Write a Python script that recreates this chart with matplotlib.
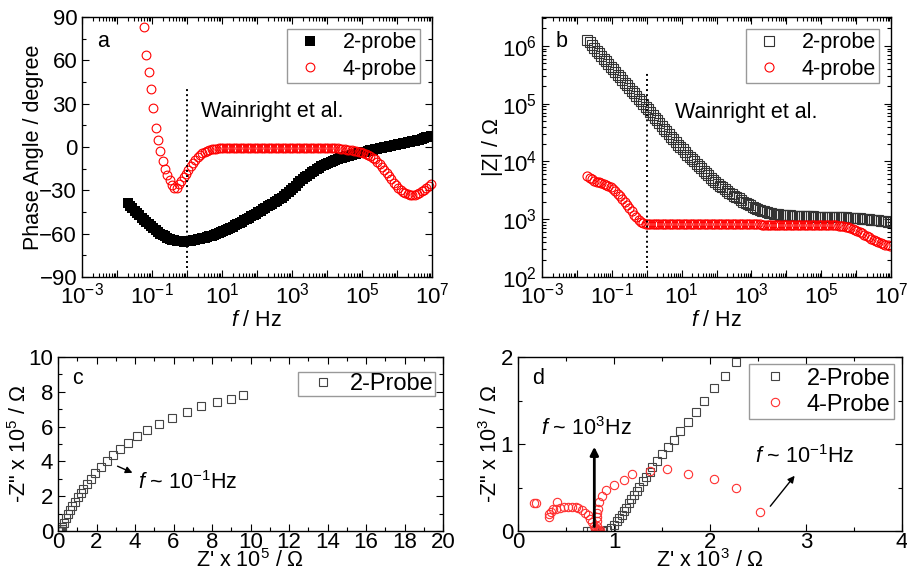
import numpy as np
import matplotlib
matplotlib.use("Agg")
import matplotlib.pyplot as plt
from matplotlib.ticker import LogLocator, MultipleLocator, NullFormatter

plt.rcParams['font.family'] = ['Liberation Sans', 'DejaVu Sans']
plt.rcParams['mathtext.fontset'] = 'custom'
plt.rcParams['mathtext.rm'] = 'Liberation Sans'
plt.rcParams['mathtext.it'] = 'Liberation Sans:italic'
plt.rcParams['mathtext.default'] = 'regular'

# frequency sweep, 15 points per decade from 0.02 Hz to 10 MHz
freq = 10 ** (np.arange(131) / 15.0 - 1.7)

# phase angle (degree), 2-probe
phase_2p = [-39, -40.7, -42.3, -44, -45.7, -47.3, -49, -50.5, -52.0, -53.5, -54.9, -56.3,
            -57.6, -58.8, -59.9, -61, -61.9, -62.8, -63.5, -64.1, -64.6, -65, -65.3, -65.4,
            -65.5, -65.4, -65.3, -65, -64.7, -64.3, -63.9, -63.5, -63.1, -62.7, -62.3, -61.9,
            -61.4, -60.9, -60.3, -59.7, -59.0, -58.3, -57.6, -56.8, -56.0, -55.1, -54.2, -53.4,
            -52.5, -51.6, -50.8, -49.9, -49.0, -48.0, -47.1, -46.1, -45.1, -44.1, -43.1, -42.1,
            -41.1, -40.2, -39.2, -38.3, -37.3, -36.3, -35.2, -33.9, -32.6, -31.1, -29.6, -28.2,
            -26.7, -25.2, -23.8, -22.4, -21.1, -19.9, -18.5, -17.4, -16.3, -15.2, -14.3, -13.4,
            -12.5, -11.7, -10.9, -10.2, -9.5, -8.9, -8.3, -7.8, -7.3, -6.8, -6.3, -5.9,
            -5.5, -5.1, -4.7, -4.3, -4.0, -3.6, -3.2, -2.8, -2.4, -2.0, -1.6, -1.2,
            -0.8, -0.4, 0.0, 0.3, 0.6, 1.0, 1.3, 1.6, 2.0, 2.3, 2.6, 2.9,
            3.2, 3.5, 3.9, 4.2, 4.6, 5.0, 5.5, 6.0, 6.6, 7.2, 7.7]

# phase angle (degree), 4-probe; the lowest frequencies lie above 90 and are left out
phase_4p = [83, 64, 52, 40, 27, 13, 5, -3, -10, -15, -19.5, -23,
            -26.3, -28.6, -28.5, -25.8, -23.5, -21, -18.5, -16, -13.5, -11, -9, -7,
            -5.2, -4.0, -3.2, -2.6, -2.1, -1.7, -1.4, -1.2, -1.0, -0.9, -0.8, -0.7,
            -0.65, -0.6, -0.5, -0.5, -0.5, -0.5, -0.5, -0.5, -0.5, -0.5, -0.5, -0.5,
            -0.5, -0.5, -0.5, -0.5, -0.5, -0.5, -0.5, -0.5, -0.5, -0.5, -0.5, -0.5,
            -0.5, -0.5, -0.5, -0.5, -0.5, -0.5, -0.5, -0.5, -0.5, -0.5, -0.5, -0.5,
            -0.5, -0.5, -0.5, -0.5, -0.5, -0.55, -0.6, -0.65, -0.7, -0.75, -0.85, -1.0,
            -1.15, -1.3, -1.5, -1.75, -2.0, -2.3, -2.6, -3.0, -3.4, -3.8, -4.25, -4.8,
            -5.45, -6.3, -7.3, -8.6, -10.1, -11.8, -13.7, -15.7, -17.8, -20.1, -22.3, -24.6,
            -26.6, -28.4, -30.0, -31.2, -32.1, -32.7, -33.0, -33.1, -33.0, -32.6, -31.9, -30.8,
            -29.5, -28.1, -26.8, -25.6]

# log10 of |Z| / Ohm
logZ_2p = [6.10, 6.06, 6.02, 5.97, 5.92, 5.88, 5.83, 5.78, 5.74, 5.69, 5.64, 5.60,
           5.55, 5.50, 5.46, 5.41, 5.36, 5.32, 5.27, 5.22, 5.18, 5.13, 5.08, 5.04,
           4.99, 4.94, 4.90, 4.85, 4.80, 4.76, 4.71, 4.66, 4.62, 4.57, 4.52, 4.48,
           4.43, 4.38, 4.34, 4.29, 4.25, 4.21, 4.16, 4.12, 4.08, 4.04, 4.00, 3.96,
           3.92, 3.88, 3.84, 3.80, 3.76, 3.72, 3.68, 3.65, 3.61, 3.58, 3.55, 3.52,
           3.49, 3.46, 3.44, 3.41, 3.38, 3.36, 3.33, 3.30, 3.28, 3.26, 3.24, 3.22,
           3.20, 3.18, 3.16, 3.15, 3.14, 3.12, 3.11, 3.10, 3.095, 3.09, 3.085, 3.08,
           3.075, 3.07, 3.07, 3.065, 3.06, 3.06, 3.06, 3.055, 3.055, 3.055, 3.05, 3.05,
           3.05, 3.05, 3.045, 3.045, 3.045, 3.04, 3.04, 3.04, 3.04, 3.04, 3.035, 3.035,
           3.035, 3.03, 3.03, 3.03, 3.025, 3.025, 3.02, 3.02, 3.015, 3.015, 3.01, 3.005,
           3.00, 3.00, 2.995, 2.99, 2.985, 2.98, 2.975, 2.97, 2.965, 2.96, 2.955]

logZ_4p = [3.75, 3.72, 3.70, 3.67, 3.65, 3.64, 3.62, 3.61, 3.59, 3.57, 3.55, 3.52,
           3.48, 3.44, 3.40, 3.35, 3.30, 3.24, 3.19, 3.14, 3.08, 3.03, 2.99, 2.96,
           2.93, 2.92, 2.91, 2.91, 2.91, 2.91, 2.91, 2.91, 2.91, 2.91, 2.91, 2.91,
           2.91, 2.91, 2.91, 2.91, 2.91, 2.91, 2.91, 2.91, 2.91, 2.91, 2.91, 2.91,
           2.91, 2.91, 2.91, 2.91, 2.91, 2.91, 2.91, 2.91, 2.91, 2.91, 2.91, 2.91,
           2.91, 2.91, 2.91, 2.91, 2.91, 2.91, 2.91, 2.91, 2.91, 2.91, 2.91, 2.91,
           2.91, 2.91, 2.91, 2.905, 2.905, 2.905, 2.905, 2.905, 2.905, 2.905, 2.905, 2.905,
           2.905, 2.905, 2.905, 2.905, 2.905, 2.905, 2.905, 2.905, 2.905, 2.905, 2.905, 2.905,
           2.905, 2.905, 2.905, 2.905, 2.905, 2.905, 2.905, 2.905, 2.905, 2.90, 2.897, 2.893,
           2.89, 2.883, 2.877, 2.87, 2.86, 2.85, 2.835, 2.82, 2.80, 2.78, 2.757, 2.733,
           2.71, 2.687, 2.663, 2.64, 2.62, 2.60, 2.585, 2.57, 2.56, 2.55, 2.543]

# Nyquist, 2-probe, x 1e5 Ohm
zre_c = [0.02, 0.03, 0.05, 0.07, 0.09, 0.11, 0.13, 0.16, 0.19, 0.22, 0.31, 0.40,
         0.50, 0.62, 0.74, 0.88, 1.02, 1.18, 1.32, 1.49, 1.70, 1.92, 2.22,
         2.53, 2.87, 3.22, 3.65, 4.09, 4.61, 5.26, 5.90, 6.70, 7.41, 8.28,
         8.97, 9.63]
zim_c = [0.0, 0.005, 0.01, 0.01, 0.005, 0.01, 0.01, 0.02, 0.12, 0.25, 0.48, 0.73,
         0.96, 1.21, 1.44, 1.68, 1.94, 2.17, 2.41, 2.68, 2.99, 3.31, 3.66,
         4.02, 4.37, 4.71, 5.07, 5.46, 5.80, 6.17, 6.51, 6.86, 7.20, 7.40,
         7.59, 7.82]

# Nyquist near the origin, x 1e3 Ohm
zre_d2 = [0.72, 0.76, 0.80, 0.84, 0.87, 0.89, 0.93, 0.97, 1.00, 1.03, 1.05, 1.08,
          1.10, 1.13, 1.16, 1.18, 1.21, 1.24, 1.26, 1.30, 1.33, 1.37, 1.40,
          1.45, 1.50, 1.56, 1.62, 1.69, 1.77, 1.85, 1.94, 2.04, 2.16, 2.27]
zim_d2 = [0.0, 0.0, 0.0, 0.0, 0.0, 0.0, 0.01, 0.04, 0.07, 0.11, 0.15, 0.18,
          0.23, 0.27, 0.32, 0.37, 0.41, 0.46, 0.51, 0.57, 0.62, 0.68, 0.74,
          0.80, 0.88, 0.96, 1.05, 1.15, 1.25, 1.37, 1.50, 1.64, 1.78, 1.94]
zre_d4 = [0.17, 0.19, 0.32, 0.32, 0.34, 0.36, 0.41, 0.40, 0.44, 0.48, 0.52, 0.56,
          0.60, 0.63, 0.67, 0.70, 0.73, 0.75, 0.77, 0.79, 0.80, 0.81, 0.82,
          0.83, 0.84, 0.85, 0.82, 0.82, 0.82, 0.82, 0.83, 0.84, 0.88, 0.92,
          1.00, 1.10, 1.19, 1.37, 1.55, 1.77, 2.04, 2.27, 2.52]
zim_d4 = [0.32, 0.32, 0.16, 0.19, 0.22, 0.25, 0.33, 0.25, 0.27, 0.28, 0.28, 0.28,
          0.28, 0.27, 0.24, 0.21, 0.18, 0.14, 0.10, 0.06, 0.03, 0.01, 0.0,
          0.0, 0.0, 0.01, 0.06, 0.11, 0.16, 0.21, 0.25, 0.33, 0.40, 0.47,
          0.53, 0.59, 0.66, 0.69, 0.71, 0.65, 0.60, 0.50, 0.22]

decade_labels = ['$10^{-3}$', '', '$10^{-1}$', '', '$10^{1}$', '',
                 '$10^{3}$', '', '$10^{5}$', '', '$10^{7}$']

FS = 15.5
W, H = 907, 574
fig = plt.figure(figsize=(W / 100, H / 100), dpi=100)


def px_axes(x0, y0, x1, y1):
    return fig.add_axes([x0 / W, 1 - y1 / H, (x1 - x0) / W, (y1 - y0) / H])


def style(ax, xpad=4):
    ax.tick_params(which='both', direction='in', top=True, right=True,
                   labelsize=16, width=0.8)
    ax.tick_params(which='major', length=5)
    ax.tick_params(which='minor', length=3)
    ax.tick_params(axis='x', pad=xpad)
    for s in ax.spines.values():
        s.set_linewidth(1.0)


def legend(ax, x, y, fs=FS, hl=1.9, htp=0.55, bp=0.15, ls=0.25):
    lg = ax.legend(loc='upper right', bbox_to_anchor=(x, y), borderaxespad=0,
                   fontsize=fs, handlelength=hl, handletextpad=htp,
                   borderpad=bp, labelspacing=ls, fancybox=False,
                   framealpha=1, edgecolor='#999999')
    lg.get_frame().set_linewidth(1.0)


def log_freq_axis(ax):
    ax.set_xscale('log')
    ax.set_xlim(1e-3, 1e7)
    ax.set_xticks([10.0 ** k for k in range(-3, 8)])
    ax.set_xticklabels(decade_labels)
    ax.xaxis.set_minor_locator(LogLocator(base=10, subs=np.arange(2, 10), numticks=20))
    ax.xaxis.set_minor_formatter(NullFormatter())
    ax.set_xlabel('$\\mathit{f}$ / Hz', fontsize=FS, labelpad=1)


# (a) phase angle
ax = px_axes(82, 17, 432, 277)
ax.plot(freq[-len(phase_2p):], phase_2p, 's', color='black', ms=7, mew=0,
        label='2-probe')
ax.plot(freq[-len(phase_4p):], phase_4p, 'o', mfc='none', mec='red', ms=6.3,
        mew=0.8, label='4-probe', clip_on=False)
ax.plot([1, 1], [-84, 40], color='black', lw=1.4, ls=(0, (1, 1.6)))
log_freq_axis(ax)
ax.set_ylim(-90, 90)
ax.yaxis.set_major_locator(MultipleLocator(30))
ax.yaxis.set_minor_locator(MultipleLocator(15))
ax.set_ylabel('Phase Angle / degree', fontsize=FS, labelpad=-3)
ax.text(0.043, 0.905, 'a', transform=ax.transAxes, fontsize=FS, va='center')
ax.text(0.34, 0.638, 'Wainright et al.', transform=ax.transAxes, fontsize=FS,
        va='center')
style(ax)
legend(ax, 0.966, 0.954)

# (b) impedance modulus
ax = px_axes(542, 17, 891, 277)
ax.plot(freq[-len(logZ_2p):], 10 ** np.array(logZ_2p), 's', mfc='none',
        mec='#333333', ms=6.7, mew=0.8, label='2-probe')
ax.plot(freq[-len(logZ_4p):], 10 ** np.array(logZ_4p), 'o', mfc='none',
        mec='red', ms=6.5, mew=0.8, label='4-probe')
ax.plot([1, 1], [141, 3.5e5], color='black', lw=1.4, ls=(0, (1, 1.6)))
log_freq_axis(ax)
ax.set_yscale('log')
ax.set_ylim(1e2, 10 ** 6.5)
ax.set_yticks([1e2, 1e3, 1e4, 1e5, 1e6])
ax.yaxis.set_minor_locator(LogLocator(base=10, subs=np.arange(2, 10), numticks=20))
ax.yaxis.set_minor_formatter(NullFormatter())
ax.set_ylabel('|Z| / Ω', fontsize=FS, labelpad=-1)
ax.text(0.04, 0.905, 'b', transform=ax.transAxes, fontsize=FS, va='center')
ax.text(0.381, 0.631, 'Wainright et al.', transform=ax.transAxes, fontsize=FS,
        va='center')
style(ax)
legend(ax, 0.966, 0.954)

# (c) Nyquist, 2-probe
ax = px_axes(58, 357, 443, 531)
ax.plot(zre_c, zim_c, 's', mfc='none', mec='#444444', ms=5.3, mew=0.8,
        label='2-Probe')
ax.set_xlim(0, 20)
ax.set_ylim(0, 10)
ax.xaxis.set_major_locator(MultipleLocator(2))
ax.xaxis.set_minor_locator(MultipleLocator(1))
ax.yaxis.set_major_locator(MultipleLocator(2))
ax.yaxis.set_minor_locator(MultipleLocator(1))
ax.set_xlabel("Z' x 10$^5$ / Ω", fontsize=FS, labelpad=-2.5)
ax.set_ylabel('-Z" x 10$^5$ / Ω', fontsize=FS, labelpad=-2)
ax.annotate('', xy=(4.0, 3.28), xytext=(2.96, 3.79),
            arrowprops=dict(arrowstyle='-|>', color='black', lw=1.0,
                            mutation_scale=10))
ax.text(4.16, 2.76, '$\\mathit{f}$ ~ 10$^{-1}$Hz', fontsize=FS, va='center')
ax.text(0.036, 0.879, 'c', transform=ax.transAxes, fontsize=FS, va='center')
style(ax, xpad=0.5)
legend(ax, 0.979, 0.914, fs=17, hl=2.0, htp=0.15, bp=0.05)

# (d) Nyquist close to the origin
ax = px_axes(518, 357, 902, 531)
ax.plot(zre_d2, zim_d2, 's', mfc='none', mec='#444444', ms=5.3, mew=0.8,
        label='2-Probe')
ax.plot(zre_d4, zim_d4, 'o', mfc='none', mec='#ff3030', ms=6, mew=0.8,
        label='4-Probe')
ax.set_xlim(0, 4)
ax.set_ylim(0, 2)
ax.xaxis.set_major_locator(MultipleLocator(1))
ax.xaxis.set_minor_locator(MultipleLocator(0.5))
ax.yaxis.set_major_locator(MultipleLocator(1))
ax.yaxis.set_minor_locator(MultipleLocator(0.5))
ax.set_xlabel("Z' x 10$^3$ / Ω", fontsize=FS, labelpad=-2.5)
ax.set_ylabel('-Z" x 10$^3$ / Ω', fontsize=FS, labelpad=-1)
ax.annotate('', xy=(0.795, 1.0), xytext=(0.795, 0.02),
            arrowprops=dict(arrowstyle='-|>', color='black', lw=2.0,
                            mutation_scale=12))
ax.text(0.236, 1.18, '$\\mathit{f}$ ~ 10$^{3}$Hz', fontsize=FS, va='center')
ax.annotate('', xy=(2.90, 0.66), xytext=(2.61, 0.26),
            arrowprops=dict(arrowstyle='-|>', color='black', lw=1.0,
                            mutation_scale=10))
ax.text(2.47, 0.86, '$\\mathit{f}$ ~ 10$^{-1}$Hz', fontsize=FS, va='center')
ax.text(0.036, 0.879, 'd', transform=ax.transAxes, fontsize=FS, va='center')
style(ax, xpad=0.5)
legend(ax, 0.979, 0.96, fs=17, hl=1.9, htp=0.4, bp=0.15, ls=0.17)

fig.savefig('out.png', dpi=100)
